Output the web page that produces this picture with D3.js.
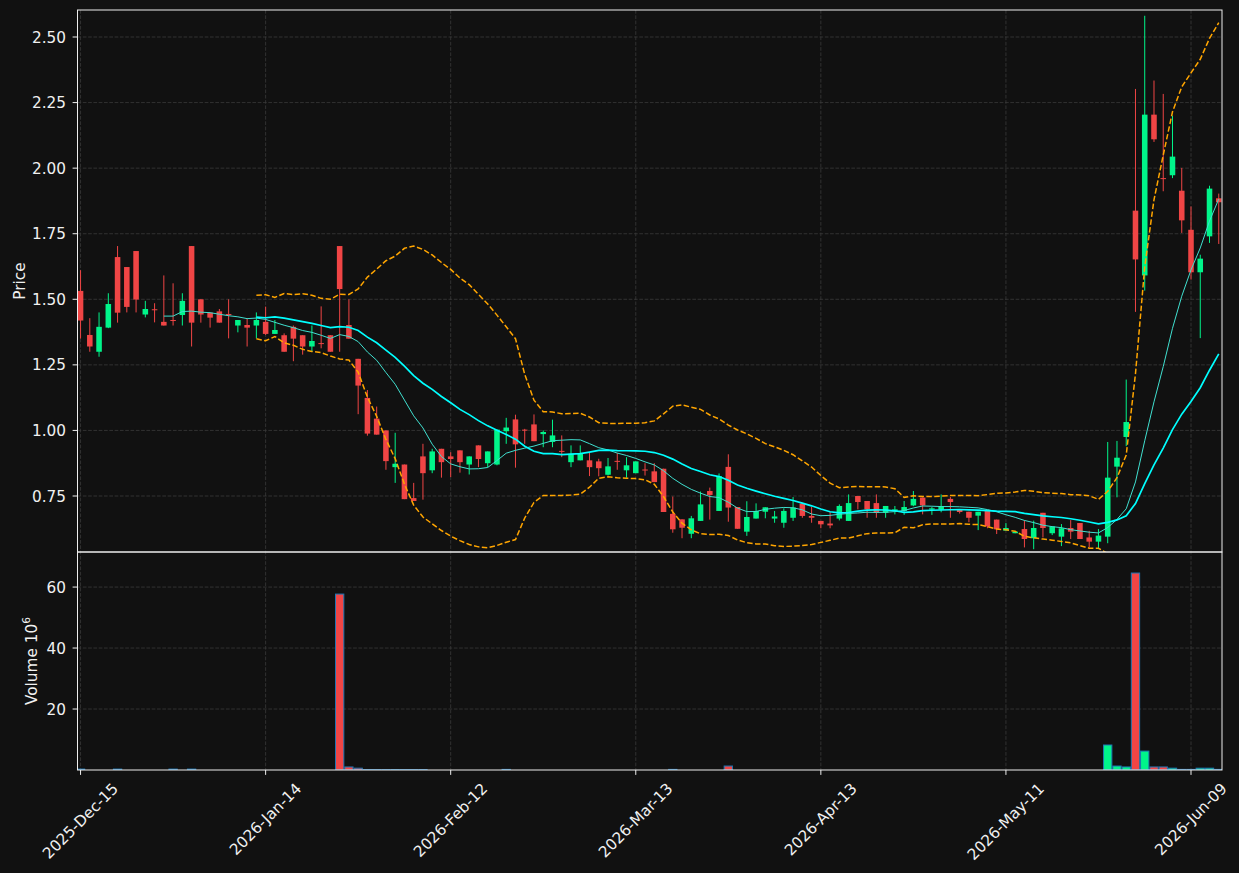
<!DOCTYPE html>
<html><head><meta charset="utf-8">
<script src="https://cdn.jsdelivr.net/npm/d3@7"></script>
<style>
html,body{margin:0;padding:0;background:#111111;}
svg{display:block;}
</style>
</head><body>
<svg id="chart" width="1239" height="873" font-family="DejaVu Sans"></svg>
<script>
// ---------------- data ----------------
const opens = [1.532,1.364,1.300,1.392,1.661,1.623,1.684,1.442,1.462,1.414,
1.421,1.440,1.703,1.500,1.449,1.454,1.444,1.400,1.402,1.400,
1.414,1.368,1.363,1.395,1.363,1.320,1.333,1.363,1.703,1.402,
1.273,1.124,1.045,1.000,0.860,0.870,0.742,0.901,0.848,0.930,
0.901,0.924,0.870,0.943,0.875,0.870,0.997,1.042,1.003,1.023,
0.986,0.956,0.922,0.879,0.886,0.886,0.882,0.831,0.884,0.848,
0.837,0.851,0.844,0.854,0.682,0.661,0.606,0.655,0.769,0.693,
0.861,0.708,0.614,0.664,0.690,0.664,0.648,0.667,0.721,0.674,
0.655,0.645,0.664,0.655,0.750,0.731,0.723,0.686,0.693,0.693,
0.714,0.744,0.698,0.698,0.739,0.698,0.690,0.675,0.694,0.660,
0.618,0.608,0.624,0.589,0.686,0.608,0.595,0.628,0.647,0.592,
0.576,0.595,0.862,0.975,1.838,1.591,2.204,1.962,1.973,1.914,
1.765,1.603,1.740,1.885];
const highs = [1.611,1.428,1.450,1.523,1.703,1.623,1.684,1.494,1.485,1.591,
1.561,1.523,1.703,1.500,1.449,1.463,1.500,1.421,1.428,1.450,
1.472,1.421,1.370,1.400,1.363,1.400,1.473,1.363,1.703,1.500,
1.273,1.154,1.091,1.000,0.991,0.870,0.800,0.949,0.930,0.930,
0.917,0.924,0.901,0.943,0.920,1.003,1.048,1.060,1.006,1.061,
1.000,1.041,0.981,0.943,0.943,0.917,0.892,0.895,0.914,0.898,
0.882,0.875,0.875,0.854,0.748,0.661,0.674,0.767,0.782,0.836,
0.909,0.708,0.730,0.722,0.707,0.693,0.703,0.746,0.721,0.708,
0.655,0.689,0.718,0.756,0.750,0.731,0.756,0.712,0.712,0.731,
0.769,0.744,0.708,0.756,0.746,0.698,0.690,0.690,0.694,0.660,
0.647,0.614,0.658,0.656,0.686,0.634,0.643,0.658,0.647,0.617,
0.624,0.956,0.960,1.194,2.302,2.581,2.334,2.283,2.200,2.001,
1.854,1.670,1.933,1.903];
const lows = [1.350,1.300,1.281,1.390,1.411,1.450,1.450,1.431,1.412,1.400,
1.400,1.400,1.320,1.411,1.392,1.411,1.351,1.374,1.320,1.351,
1.364,1.368,1.300,1.264,1.289,1.300,1.313,1.300,1.300,1.350,
1.062,0.980,0.984,0.850,0.800,0.738,0.731,0.736,0.837,0.820,
0.822,0.839,0.832,0.860,0.860,0.867,0.949,0.858,0.949,0.959,
0.936,0.936,0.898,0.860,0.886,0.826,0.825,0.828,0.850,0.820,
0.837,0.828,0.803,0.689,0.610,0.589,0.589,0.655,0.660,0.693,
0.652,0.625,0.598,0.664,0.665,0.648,0.629,0.655,0.667,0.648,
0.627,0.627,0.657,0.655,0.699,0.667,0.667,0.667,0.680,0.678,
0.711,0.680,0.678,0.688,0.667,0.683,0.650,0.620,0.627,0.605,
0.618,0.608,0.554,0.547,0.592,0.601,0.559,0.586,0.586,0.554,
0.548,0.570,0.745,0.940,1.452,1.533,2.100,1.912,1.962,1.753,
1.575,1.352,1.715,1.711];
const closes = [1.419,1.320,1.395,1.482,1.449,1.471,1.499,1.463,1.461,1.400,
1.419,1.494,1.411,1.442,1.430,1.411,1.443,1.421,1.392,1.421,
1.368,1.383,1.300,1.350,1.320,1.341,1.332,1.300,1.539,1.350,
1.171,0.988,0.984,0.883,0.873,0.738,0.731,0.837,0.920,0.879,
0.891,0.879,0.901,0.891,0.920,1.003,1.011,0.947,1.002,0.959,
0.994,0.981,0.920,0.911,0.911,0.860,0.856,0.863,0.882,0.867,
0.882,0.850,0.803,0.689,0.623,0.629,0.665,0.718,0.754,0.826,
0.706,0.625,0.670,0.693,0.707,0.672,0.693,0.706,0.674,0.667,
0.642,0.638,0.712,0.723,0.727,0.699,0.686,0.712,0.699,0.708,
0.739,0.714,0.703,0.711,0.727,0.689,0.667,0.690,0.634,0.623,
0.628,0.614,0.586,0.628,0.628,0.634,0.627,0.614,0.586,0.576,
0.599,0.820,0.896,1.032,1.652,2.204,2.110,1.960,2.044,1.801,
1.603,1.655,1.922,1.870];
// volume in millions (0 = no visible bar)
const volumes = [0.3,0,0,0,0.3,0,0,0,0,0,
0.3,0,0.3,0,0,0,0,0,0,0,
0,0,0,0,0,0,0,0,57.7,1.0,
0.6,0.15,0.15,0.15,0.15,0.15,0.15,0.15,0,0,
0,0,0,0,0,0,0.2,0,0,0,
0,0,0,0,0,0,0,0,0,0,
0,0,0,0,0.2,0,0,0,0,0,
1.3,0,0,0,0,0,0,0,0,0,
0,0,0,0,0,0,0,0,0,0,
0,0,0,0,0,0,0,0,0,0,
0,0,0,0,0,0,0,0,0,0,
0,8.2,1.3,1.0,64.6,6.2,1.0,1.0,0.6,0.2,
0.2,0.6,0.6,0.2];
const startDate = "2025-12-15";
const holidays = ["2025-12-25","2026-01-01","2026-01-19","2026-02-16","2026-04-03","2026-05-25"];
const xTickLabels = ["2025-Dec-15","2026-Jan-14","2026-Feb-12","2026-Mar-13","2026-Apr-13","2026-May-11","2026-Jun-09"];
const priceTicks = [0.75,1.00,1.25,1.50,1.75,2.00,2.25,2.50];
const volumeTicks = [20,40,60];
const maShort = 10, maLong = 20, bbStd = 2;

// ---------------- categories (trading days) ----------------
const N = closes.length;
const fmtKey = d3.utcFormat("%Y-%m-%d");
const fmtLabel = d3.utcFormat("%Y-%b-%d");
const dates = [];
{
  let d = new Date(startDate + "T00:00:00Z");
  while (dates.length < N) {
    const wd = d.getUTCDay();
    if (wd !== 0 && wd !== 6 && !holidays.includes(fmtKey(d))) dates.push(fmtLabel(d));
    d = new Date(d.getTime() + 86400000);
  }
}

// ---------------- indicators (derived from closes) ----------------
function sma(arr, n) {
  return arr.map((v, i) => i < n - 1 ? null : d3.mean(arr.slice(i - n + 1, i + 1)));
}
function sdev(arr, n) {
  return arr.map((v, i) => i < n - 1 ? null : d3.deviation(arr.slice(i - n + 1, i + 1)));
}
const ma10 = sma(closes, maShort);
const ma20 = sma(closes, maLong);
const sd20 = sdev(closes, maLong);
const upper = ma20.map((m, i) => m == null ? null : m + bbStd * sd20[i]);
const lower = ma20.map((m, i) => m == null ? null : m - bbStd * sd20[i]);

// ---------------- layout ----------------
const L = 77.5, R = 1222, PT = 10, PB = 552, VT = 552, VB = 770;
const BG = "#111111", UP = "#00f58a", DOWN = "#f04545", GRID = "#3a3a3a", SPINE = "#eeeeee", TXT = "#f0f0f0";
const FONT = "DejaVu Sans", FS = 15.3;

const svg = d3.select("#chart");
svg.append("rect").attr("width", 1239).attr("height", 873).attr("fill", BG);

const x = d3.scaleLinear().domain([-0.33, N - 1 + 0.35]).range([L, R]);
const y = d3.scaleLinear().domain([0.5365, 2.603]).range([PB, PT]);
const yv = d3.scaleLinear().domain([0, 71.5]).range([VB, VT]);

const tickIdx = xTickLabels.map(t => dates.indexOf(t));

const defs = svg.append("defs");
defs.append("clipPath").attr("id", "clipP").append("rect").attr("x", L).attr("y", PT).attr("width", R - L).attr("height", PB - PT);
defs.append("clipPath").attr("id", "clipV").append("rect").attr("x", L).attr("y", VT).attr("width", R - L).attr("height", VB - VT);

// grids
const gGrid = svg.append("g").attr("stroke", GRID).attr("stroke-width", 0.8).attr("stroke-dasharray", "3.7,1.6");
tickIdx.forEach(i => {
  gGrid.append("line").attr("x1", x(i)).attr("x2", x(i)).attr("y1", PT).attr("y2", VB);
});
priceTicks.forEach(t => gGrid.append("line").attr("x1", L).attr("x2", R).attr("y1", y(t)).attr("y2", y(t)));
volumeTicks.forEach(t => gGrid.append("line").attr("x1", L).attr("x2", R).attr("y1", yv(t)).attr("y2", yv(t)));

// candles
const step = x(1) - x(0);
const bodyW = step * 0.6;
const gC = svg.append("g").attr("clip-path", "url(#clipP)");
const idx = d3.range(N);
gC.selectAll("line.wick").data(idx).join("line")
  .attr("x1", i => x(i)).attr("x2", i => x(i))
  .attr("y1", i => y(highs[i])).attr("y2", i => y(lows[i]))
  .attr("stroke", i => closes[i] >= opens[i] ? UP : DOWN).attr("stroke-width", 1);
gC.selectAll("rect.body").data(idx).join("rect")
  .attr("x", i => x(i) - bodyW / 2).attr("width", bodyW)
  .attr("y", i => y(Math.max(opens[i], closes[i])))
  .attr("height", i => Math.max(1, Math.abs(y(opens[i]) - y(closes[i]))))
  .attr("fill", i => closes[i] >= opens[i] ? UP : DOWN);

// indicator lines
const line = d3.line().defined(d => d.v != null).x(d => x(d.i)).y(d => y(d.v));
const toPts = arr => arr.map((v, i) => ({i, v}));
const gL = svg.append("g").attr("clip-path", "url(#clipP)").attr("fill", "none");
gL.append("path").attr("d", line(toPts(upper))).attr("stroke", "#ffa500").attr("stroke-width", 1.5).attr("stroke-dasharray", "5.5,2.4");
gL.append("path").attr("d", line(toPts(lower))).attr("stroke", "#ffa500").attr("stroke-width", 1.5).attr("stroke-dasharray", "5.5,2.4");
gL.append("path").attr("d", line(toPts(ma10))).attr("stroke", "#40e0d0").attr("stroke-width", 1);
gL.append("path").attr("d", line(toPts(ma20))).attr("stroke", "#00ffff").attr("stroke-width", 1.7);

// volume bars
const barW = step * 0.9;
const gV = svg.append("g").attr("clip-path", "url(#clipV)");
gV.selectAll("rect").data(idx.filter(i => volumes[i] > 0)).join("rect")
  .attr("x", i => x(i) - barW / 2).attr("width", barW)
  .attr("y", i => yv(volumes[i])).attr("height", i => yv(0) - yv(volumes[i]))
  .attr("fill", i => closes[i] >= opens[i] ? UP : DOWN)
  .attr("stroke", "#1f77b4").attr("stroke-width", 1);

// spines
const gS = svg.append("g").attr("fill", "none").attr("stroke", SPINE).attr("stroke-width", 1);
gS.append("rect").attr("x", L).attr("y", PT).attr("width", R - L).attr("height", PB - PT);
gS.append("rect").attr("x", L).attr("y", VT).attr("width", R - L).attr("height", VB - VT);

// y axes
const gYA = svg.append("g");
priceTicks.forEach(t => {
  gYA.append("line").attr("x1", L - 4.9).attr("x2", L).attr("y1", y(t)).attr("y2", y(t)).attr("stroke", SPINE);
  gYA.append("text").attr("x", L - 11.5).attr("y", y(t)).attr("dy", "0.36em").attr("text-anchor", "end")
    .attr("font-family", FONT).attr("font-size", FS).attr("fill", TXT).text(t.toFixed(2));
});
volumeTicks.forEach(t => {
  gYA.append("line").attr("x1", L - 4.9).attr("x2", L).attr("y1", yv(t)).attr("y2", yv(t)).attr("stroke", SPINE);
  gYA.append("text").attr("x", L - 11.5).attr("y", yv(t)).attr("dy", "0.36em").attr("text-anchor", "end")
    .attr("font-family", FONT).attr("font-size", FS).attr("fill", TXT).text(t);
});
svg.append("text").attr("transform", `translate(25,${(PT + PB) / 2}) rotate(-90)`)
  .attr("text-anchor", "middle").attr("font-family", FONT).attr("font-size", FS).attr("fill", TXT).text("Price");
const vl = svg.append("text").attr("transform", `translate(36.5,${(VT + VB) / 2}) rotate(-90)`)
  .attr("text-anchor", "middle").attr("font-family", FONT).attr("font-size", FS).attr("fill", TXT);
vl.append("tspan").text("Volume  10");
vl.append("tspan").attr("font-size", 10.7).attr("dy", "-0.6em").text("6");

// x axis
const gX = svg.append("g");
tickIdx.forEach((i, k) => {
  const xx = x(i);
  gX.append("line").attr("x1", xx).attr("x2", xx).attr("y1", VB).attr("y2", VB + 4.9).attr("stroke", SPINE);
  const t = gX.append("text").attr("font-family", FONT).attr("font-size", FS).attr("fill", TXT)
    .attr("text-anchor", "middle").attr("dominant-baseline", "central").text(xTickLabels[k]);
  const w = t.node().getComputedTextLength();
  const h = FS * 1.164;
  const s = (w + h) / Math.SQRT2;
  t.attr("transform", `translate(${xx},${VB + 9.8 + s / 2}) rotate(-45)`);
});
</script>
</body></html>
